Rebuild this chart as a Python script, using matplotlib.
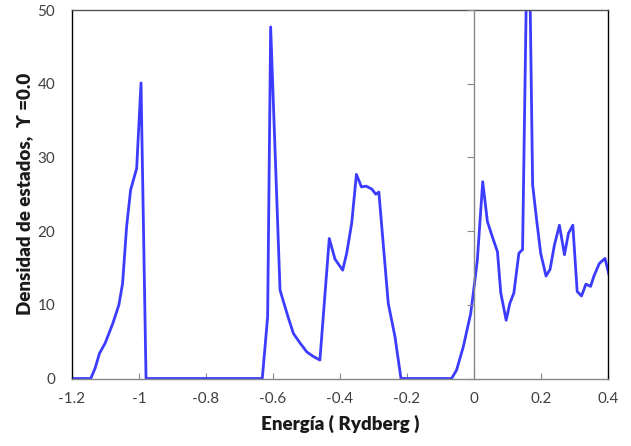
import matplotlib
matplotlib.use("Agg")
import matplotlib.pyplot as plt
from matplotlib.transforms import Bbox, TransformedBbox

# Energy grid (Rydberg) and density of states
energia = [-1.2, -1.144, -1.131, -1.118, -1.101, -1.078, -1.060, -1.049, -1.037, -1.025,
           -1.007, -0.994, -0.979, -0.632, -0.616, -0.607, -0.579, -0.566, -0.554, -0.539,
           -0.519, -0.499, -0.480, -0.460, -0.432, -0.415, -0.392, -0.380, -0.365, -0.351,
           -0.336, -0.322, -0.305, -0.293, -0.284, -0.256, -0.236, -0.218, -0.067, -0.052,
           -0.032, -0.010, -0.002, 0.010, 0.026, 0.040, 0.055, 0.070, 0.080, 0.096,
           0.107, 0.119, 0.134, 0.145, 0.162, 0.175, 0.187, 0.199, 0.215, 0.227,
           0.240, 0.255, 0.270, 0.282, 0.295, 0.308, 0.321, 0.334, 0.348, 0.358,
           0.374, 0.391, 0.404]
densidad = [0, 0, 1.4, 3.4, 4.8, 7.5, 10.0, 12.9, 20.6, 25.6,
            28.5, 40.1, 0, 0, 8.4, 47.7, 12.0, 10.0, 8.2, 6.1,
            4.8, 3.6, 3.0, 2.5, 19.0, 16.2, 14.7, 17.0, 21.1, 27.7,
            26.0, 26.1, 25.7, 25.0, 25.3, 10.2, 5.7, 0, 0, 1.15,
            4.3, 8.8, 11.6, 16.1, 26.7, 21.3, 19.2, 17.2, 11.6, 7.9,
            10.2, 11.6, 17.0, 17.5, 70, 26.3, 21.5, 17.0, 13.9, 14.8,
            18.1, 20.8, 16.8, 19.7, 20.8, 11.8, 11.2, 12.8, 12.5, 13.9,
            15.6, 16.3, 13.9]

xticks = [-1.2, -1.0, -0.8, -0.6, -0.4, -0.2, 0.0, 0.2, 0.4]
xtick_labels = ["-1.2", "-1", "-0.8", "-0.6", "-0.4", "-0.2", "0", "0.2", "0.4"]
yticks = [0, 10, 20, 30, 40, 50]

fonts = ["Lato", "DejaVu Sans"]
plt.rcParams["font.family"] = fonts

fig = plt.figure(figsize=(6.31, 4.46), dpi=100)
ax = fig.add_axes([72 / 631, 1 - 378.5 / 446, 536 / 631, 368.5 / 446])

line, = ax.plot(energia, densidad, color="#3c3cff", lw=2.0)
# let the zero baseline show fully over the bottom axis
line.set_clip_box(TransformedBbox(Bbox([[0, -0.02], [1, 1]]), ax.transAxes))

ax.set_xlim(-1.2, 0.4)
ax.set_ylim(0, 50)
ax.set_xticks(xticks)
ax.set_xticklabels(xtick_labels)
ax.set_yticks(yticks)

ax.tick_params(axis="x", direction="in", length=4, width=0.8, color="#888888",
               labelsize=11, labelcolor="#404040", pad=10)
ax.tick_params(axis="y", length=0, labelsize=11, labelcolor="#404040", pad=12)

ax.spines["left"].set_color("black")
ax.spines["right"].set_color("black")
ax.spines["top"].set_color("#555555")
ax.spines["bottom"].set_color("#888888")
for s in ax.spines.values():
    s.set_linewidth(1.0)

# vertical axis crossing at E = 0 with its own ticks
ax2 = ax.twinx()
ax2.set_ylim(0, 50)
ax2.set_yticks(yticks)
ax2.spines["right"].set_position(("data", 0.0))
ax2.spines["right"].set_color("#888888")
ax2.spines["right"].set_linewidth(1.0)
for side in ["left", "top", "bottom"]:
    ax2.spines[side].set_visible(False)
ax2.tick_params(axis="y", direction="in", length=5, width=0.8, color="#888888",
                labelright=False)

ax.set_xlabel("Energía ( Rydberg )", fontsize=13.5, fontweight="heavy", color="#1a1a1a",
              labelpad=6)
ax.set_ylabel("Densidad de estados,  ϒ =0.0", fontsize=13.5, fontweight="heavy",
              color="#1a1a1a", labelpad=3)

fig.savefig("out.png", dpi=100)
